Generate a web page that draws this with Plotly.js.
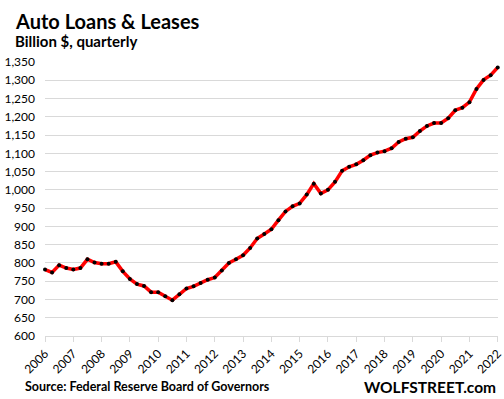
<!DOCTYPE html>
<html>
<head>
<meta charset="utf-8">
<script src="https://cdn.plot.ly/plotly-3.0.1.min.js"></script>
<style>
html,body{margin:0;padding:0;background:#fff;}
#chart{width:504px;height:399px;}
</style>
</head>
<body>
<div id="chart"></div>
<script>
// Quarterly, 2006 Q1 .. 2022 Q1 (billion $)
const startYear = 2006;
const values = [
  782, 774, 794, 786, 782, 786, 810, 801, 798, 798, 803, 777,
  756, 742, 737, 720, 720, 709, 698, 714, 730, 736, 745, 754,
  760, 779, 800, 810, 821, 841, 867, 879, 892, 917, 941, 955,
  963, 987, 1017, 990, 1000, 1022, 1052, 1063, 1070, 1081, 1095, 1102,
  1106, 1114, 1131, 1140, 1144, 1161, 1175, 1183, 1183, 1196, 1218, 1225,
  1240, 1276, 1301, 1314, 1335
];
const years = [2006,2007,2008,2009,2010,2011,2012,2013,2014,2015,2016,2017,2018,2019,2020,2021,2022];
const yearLabels = years.map(String);
const yTicks = [600,650,700,750,800,850,900,950,1000,1050,1100,1150,1200,1250,1300,1350];

const xs = values.map((v, i) => startYear + i * 0.25);

const font = "Lato, 'Open Sans', sans-serif";

const trace = {
  x: xs, y: values, type: 'scatter', mode: 'lines+markers',
  line: {color: '#ff0000', width: 3.5},
  marker: {color: '#000000', size: 4},
  hoverinfo: 'skip', cliponaxis: false
};

const layout = {
  width: 504, height: 399,
  margin: {l: 45, r: 6, t: 62, b: 63},
  paper_bgcolor: '#ffffff', plot_bgcolor: '#ffffff',
  showlegend: false,
  font: {family: font, color: '#000000', size: 12},
  xaxis: {
    range: [2006, 2022.01], tickvals: years, ticktext: yearLabels,
    tickangle: -45, ticks: 'outside', ticklen: 5, tickcolor: '#d9d9d9',
    ticklabeloverflow: 'allow',
    showgrid: false, zeroline: false, showline: true, linecolor: '#d9d9d9', linewidth: 1,
    tickfont: {family: font, size: 12, color: '#000'}
  },
  yaxis: {
    range: [600, 1350], tickvals: yTicks, tickformat: ',',
    showgrid: true, gridcolor: '#d9d9d9', gridwidth: 1, zeroline: false,
    showline: false, ticks: '', ticklabelstandoff: 9,
    tickfont: {family: font, size: 12, color: '#000'}
  },
  annotations: [
    {text: '<b>Auto Loans & Leases</b>', xref: 'paper', yref: 'paper', x: -0.071, y: 1.0, xanchor: 'left', yanchor: 'bottom',
     yshift: 27, showarrow: false, font: {family: font, size: 20, color: '#000'}},
    {text: '<b>Billion $, quarterly</b>', xref: 'paper', yref: 'paper', x: -0.071, y: 1.0, xanchor: 'left', yanchor: 'bottom',
     yshift: 10, showarrow: false, font: {family: font, size: 15, color: '#000'}},
    {text: '<b>Source: Federal Reserve Board of Governors</b>', xref: 'paper', yref: 'paper', x: -0.049, y: 0, xanchor: 'left', yanchor: 'middle',
     yshift: -50, showarrow: false, font: {family: font, size: 12.5, color: '#000'}},
    {text: '<b>WOLFSTREET.com</b>', xref: 'paper', yref: 'paper', x: 1.0, y: 0, xanchor: 'right', yanchor: 'middle',
     yshift: -51, showarrow: false, font: {family: font, size: 15.5, color: '#000'}}
  ]
};

Plotly.newPlot('chart', [trace], layout, {displayModeBar: false, staticPlot: true});
</script>
</body>
</html>
